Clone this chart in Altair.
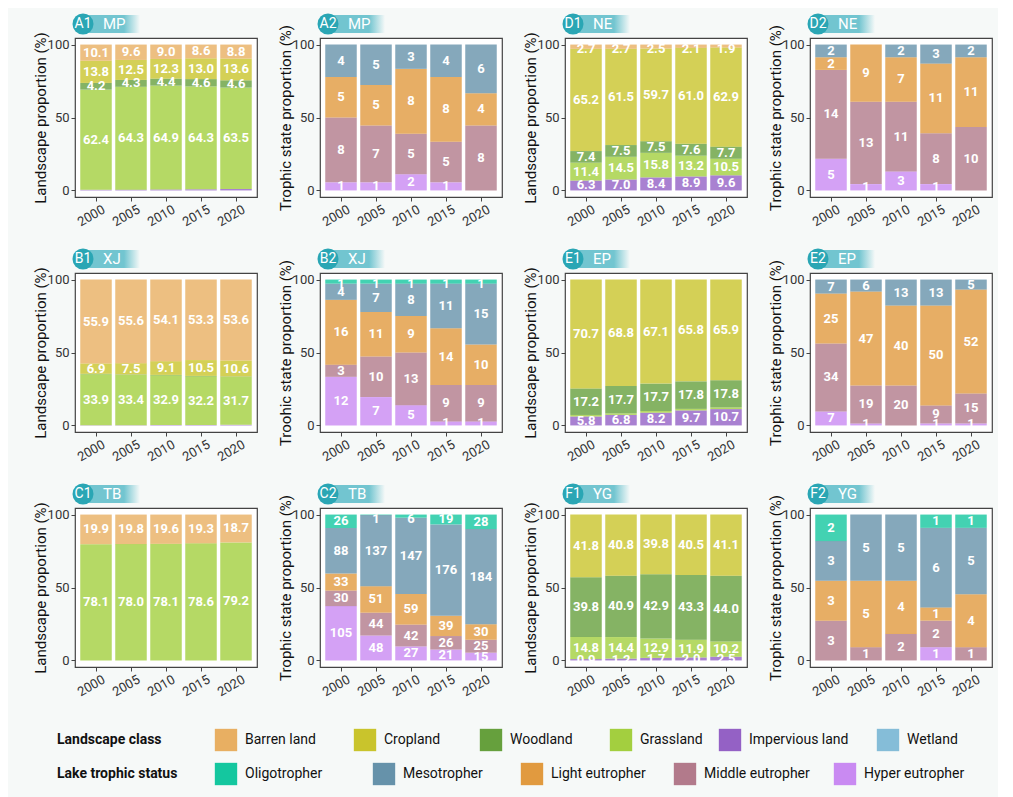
import altair as alt
import pandas as pd

YEARS = ["2000", "2005", "2010", "2015", "2020"]

LAND_CLASSES = ["Barren land", "Cropland", "Woodland", "Grassland", "Impervious land", "Wetland"]
LAND_COLORS = ["#E8AF62", "#C9C42C", "#66A03D", "#A3CF3F", "#9461C5", "#85BDD8"]
TROPHIC_CLASSES = ["Oligotropher", "Mesotropher", "Light eutropher", "Middle eutropher", "Hyper eutropher"]
TROPHIC_COLORS = ["#14C79F", "#6692AA", "#E19A3F", "#B27A8B", "#C98AF2"]

# ---- landscape proportions (%) ----
MP_LAND = {
    "Barren land": [10.1, 9.6, 9.0, 8.6, 8.8],
    "Cropland": [13.8, 12.5, 12.3, 13.0, 13.6],
    "Woodland": [4.2, 4.3, 4.4, 4.6, 4.6],
    "Grassland": [62.4, 64.3, 64.9, 64.3, 63.5],
    "Impervious land": [0.4, 0.5, 0.6, 0.7, 0.9],
}
XJ_LAND = {
    "Barren land": [55.9, 55.6, 54.1, 53.3, 53.6],
    "Cropland": [6.9, 7.5, 9.1, 10.5, 10.6],
    "Woodland": [0.3, 0.3, 0.3, 0.3, 0.3],
    "Grassland": [33.9, 33.4, 32.9, 32.2, 31.7],
    "Impervious land": [0.2, 0.2, 0.3, 0.3, 0.4],
}
TB_LAND = {
    "Barren land": [19.9, 19.8, 19.6, 19.3, 18.7],
    "Grassland": [78.1, 78.0, 78.1, 78.6, 79.2],
}
NE_LAND = {
    "Barren land": [2.7, 2.7, 2.5, 2.1, 1.9],
    "Cropland": [65.2, 61.5, 59.7, 61.0, 62.9],
    "Woodland": [7.4, 7.5, 7.5, 7.6, 7.7],
    "Grassland": [11.4, 14.5, 15.8, 13.2, 10.5],
    "Impervious land": [6.3, 7.0, 8.4, 8.9, 9.6],
}
EP_LAND = {
    "Cropland": [70.7, 68.8, 67.1, 65.8, 65.9],
    "Woodland": [17.2, 17.7, 17.7, 17.8, 17.8],
    "Grassland": [1.0, 1.0, 1.1, 1.0, 1.1],
    "Impervious land": [5.8, 6.8, 8.2, 9.7, 10.7],
}
YG_LAND = {
    "Cropland": [41.8, 40.8, 39.8, 40.5, 41.1],
    "Woodland": [39.8, 40.9, 42.9, 43.3, 44.0],
    "Grassland": [14.8, 14.4, 12.9, 11.9, 10.2],
    "Impervious land": [0.9, 1.2, 1.7, 2.0, 2.5],
}

# ---- lake counts per trophic state ----
MP_TROPHIC = {
    "Oligotropher": [0, 0, 0, 0, 0],
    "Mesotropher": [4, 5, 3, 4, 6],
    "Light eutropher": [5, 5, 8, 8, 4],
    "Middle eutropher": [8, 7, 5, 5, 8],
    "Hyper eutropher": [1, 1, 2, 1, 0],
}
XJ_TROPHIC = {
    "Oligotropher": [1, 1, 1, 1, 1],
    "Mesotropher": [4, 7, 8, 11, 15],
    "Light eutropher": [16, 11, 9, 14, 10],
    "Middle eutropher": [3, 10, 13, 9, 9],
    "Hyper eutropher": [12, 7, 5, 1, 1],
}
TB_TROPHIC = {
    "Oligotropher": [26, 1, 6, 19, 28],
    "Mesotropher": [88, 137, 147, 176, 184],
    "Light eutropher": [33, 51, 59, 39, 30],
    "Middle eutropher": [30, 44, 42, 26, 25],
    "Hyper eutropher": [105, 48, 27, 21, 15],
}
NE_TROPHIC = {
    "Oligotropher": [0, 0, 0, 0, 0],
    "Mesotropher": [2, 0, 2, 3, 2],
    "Light eutropher": [2, 9, 7, 11, 11],
    "Middle eutropher": [14, 13, 11, 8, 10],
    "Hyper eutropher": [5, 1, 3, 1, 0],
}
EP_TROPHIC = {
    "Oligotropher": [0, 0, 0, 0, 0],
    "Mesotropher": [7, 6, 13, 13, 5],
    "Light eutropher": [25, 47, 40, 50, 52],
    "Middle eutropher": [34, 19, 20, 9, 15],
    "Hyper eutropher": [7, 1, 0, 1, 1],
}
YG_TROPHIC = {
    "Oligotropher": [2, 0, 0, 1, 1],
    "Mesotropher": [3, 5, 5, 6, 5],
    "Light eutropher": [3, 5, 4, 1, 4],
    "Middle eutropher": [3, 1, 2, 2, 1],
    "Hyper eutropher": [0, 0, 0, 1, 0],
}

LAND_TITLE = "Landscape proportion (%)"
TROPHIC_TITLE = "Trophic state proportion (%)"

# legend layout (page x of each key's left edge)
LEG_ROW1_X = [213, 352, 478, 608, 717, 875]
LEG_ROW2_X = [213, 371, 519, 672, 832]
LEG_TITLES = ["Landscape class", "Lake trophic status"]

PANEL_W, PANEL_H = 182, 159
GRID_LEFT = 73

ALL_ITEMS = LAND_CLASSES + TROPHIC_CLASSES
ALL_COLORS = LAND_COLORS + TROPHIC_COLORS
COLOR_SCALE = alt.Scale(domain=ALL_ITEMS, range=ALL_COLORS)


def stack_frame(values, classes, is_land, hidden):
    order_bottom_up = list(reversed(classes))
    rows = []
    for i, yr in enumerate(YEARS):
        total = sum(values[c][i] for c in values)
        cum = 0.0
        for c in order_bottom_up:
            if c not in values:
                continue
            v = values[c][i]
            if v <= 0:
                continue
            y0 = cum / total * 100
            cum += v
            y1 = cum / total * 100
            mid = min((y0 + y1) / 2, 97.0)
            rows.append({
                "year": yr, "cls": c, "value": v, "y0": y0, "y1": y1, "mid": mid,
                "label": (f"{v:.1f}" if is_land else str(int(v))),
                "show": c not in hidden,
            })
    return pd.DataFrame(rows)


def panel(tag, region, values, is_land, ytitle, hidden=()):
    classes = LAND_CLASSES if is_land else TROPHIC_CLASSES
    df = stack_frame(values, classes, is_land, hidden)
    xenc = alt.X("year:N", sort=YEARS,
                 scale=alt.Scale(paddingInner=0.1, paddingOuter=0.15),
                 axis=alt.Axis(title=None, labelAngle=330, labelAlign="right",
                               labelBaseline="top", labelPadding=2, labelOffset=5))
    bars = alt.Chart(df).mark_bar(opacity=0.8, strokeWidth=0).encode(
        x=xenc,
        y=alt.Y("y0:Q", scale=alt.Scale(domain=[-4.5, 104.5], nice=False, zero=False),
                axis=alt.Axis(values=[0, 25, 50, 75, 100], title=ytitle,
                              titlePadding=-1, labelPadding=2)),
        y2="y1:Q",
        color=alt.Color("cls:N", scale=COLOR_SCALE, legend=None),
    )
    labels = alt.Chart(df[df["show"]]).mark_text(
        color="white", fontWeight="bold", fontSize=13, font="Roboto", baseline="middle"
    ).encode(x=alt.X("year:N", sort=YEARS), y="mid:Q", text="label:N")

    badge = pd.DataFrame({"tag": [tag], "region": [region]})
    grad = alt.LinearGradient(
        gradient="linear",
        stops=[alt.GradientStop(color="#72C5D0", offset=0),
               alt.GradientStop(color="#72C5D0", offset=0.72),
               alt.GradientStop(color="#F6F9F8", offset=1)],
        x1=0, x2=1, y1=0, y2=0)
    brect = alt.Chart(badge).mark_rect(fill=grad).encode(
        x=alt.value(8), x2=alt.value(65), y=alt.value(-23), y2=alt.value(-5))
    bcirc = alt.Chart(badge).mark_circle(size=440, color="#2AA6B4", opacity=1).encode(
        x=alt.value(8), y=alt.value(-14))
    btag = alt.Chart(badge).mark_text(color="white", fontSize=14, font="Roboto",
                                      baseline="middle").encode(
        x=alt.value(8), y=alt.value(-14), text="tag:N")
    breg = alt.Chart(badge).mark_text(color="white", fontSize=15, font="Roboto",
                                      align="left", baseline="middle").encode(
        x=alt.value(28), y=alt.value(-14), text="region:N")
    return alt.layer(bars, labels, brect, bcirc, btag, breg).properties(
        width=PANEL_W, height=PANEL_H)


panels = [
    panel("A1", "MP", MP_LAND, True, LAND_TITLE, hidden=("Impervious land",)),
    panel("A2", "MP", MP_TROPHIC, False, TROPHIC_TITLE),
    panel("D1", "NE", NE_LAND, True, LAND_TITLE),
    panel("D2", "NE", NE_TROPHIC, False, TROPHIC_TITLE),
    panel("B1", "XJ", XJ_LAND, True, LAND_TITLE, hidden=("Woodland", "Impervious land")),
    panel("B2", "XJ", XJ_TROPHIC, False, "Troohic state proportion (%)"),
    panel("E1", "EP", EP_LAND, True, LAND_TITLE, hidden=("Grassland",)),
    panel("E2", "EP", EP_TROPHIC, False, TROPHIC_TITLE),
    panel("C1", "TB", TB_LAND, True, LAND_TITLE),
    panel("C2", "TB", TB_TROPHIC, False, TROPHIC_TITLE),
    panel("F1", "YG", YG_LAND, True, LAND_TITLE),
    panel("F2", "YG", YG_TROPHIC, False, TROPHIC_TITLE),
]

grid = alt.concat(*panels, columns=4, spacing={"row": 76, "column": 63}, bounds="flush")

# ---- legend ----
leg_rows = []
for lbl, x in zip(LAND_CLASSES, LEG_ROW1_X):
    leg_rows.append({"item": lbl, "row": 0, "x": x})
for lbl, x in zip(TROPHIC_CLASSES, LEG_ROW2_X):
    leg_rows.append({"item": lbl, "row": 1, "x": x})
leg = pd.DataFrame(leg_rows)
leg["xc"] = leg["x"] + 11
leg["xt"] = leg["x"] + 30
leg_titles = pd.DataFrame({"item": LEG_TITLES, "row": [0, 1], "x": [55, 55]})

LW = 4 * PANEL_W + 3 * 63
xs = alt.Scale(domain=[GRID_LEFT, GRID_LEFT + LW], nice=False, zero=False)
ys = alt.Scale(type="point", domain=[0, 1], padding=0.5)
keys = alt.Chart(leg).mark_square(size=500, opacity=1).encode(
    x=alt.X("xc:Q", scale=xs, axis=None),
    y=alt.Y("row:O", scale=ys, axis=None),
    color=alt.Color("item:N", scale=COLOR_SCALE, legend=None),
)
ktext = alt.Chart(leg).mark_text(align="left", baseline="middle", fontSize=14,
                                 font="Roboto", color="#111").encode(
    x=alt.X("xt:Q", scale=xs, axis=None), y=alt.Y("row:O", scale=ys, axis=None), text="item:N")
ttext = alt.Chart(leg_titles).mark_text(align="left", baseline="middle", fontSize=14,
                                        font="Roboto", fontWeight="bold", color="#111").encode(
    x=alt.X("x:Q", scale=xs, axis=None), y=alt.Y("row:O", scale=ys, axis=None), text="item:N")
legend = alt.layer(keys, ktext, ttext).properties(
    width=LW, height=68,
    view=alt.ViewBackground(stroke="transparent", fill="transparent"))

chart = alt.vconcat(grid, legend, spacing=22).properties(
    padding={"left": 24, "top": 4, "right": 5, "bottom": 5},
    background="#F6F9F8",
).configure(font="Roboto").configure_view(
    stroke="#444", strokeWidth=1.2, fill="white"
).configure_axis(
    labelFont="Roboto", labelFontSize=13, labelColor="#333",
    titleFont="Roboto", titleFontSize=15, titleFontWeight="normal", titleColor="#111",
    tickColor="#444", tickSize=4, domain=False, grid=False,
)

chart.save("out.html", embed_options={"renderer": "svg", "actions": False})
